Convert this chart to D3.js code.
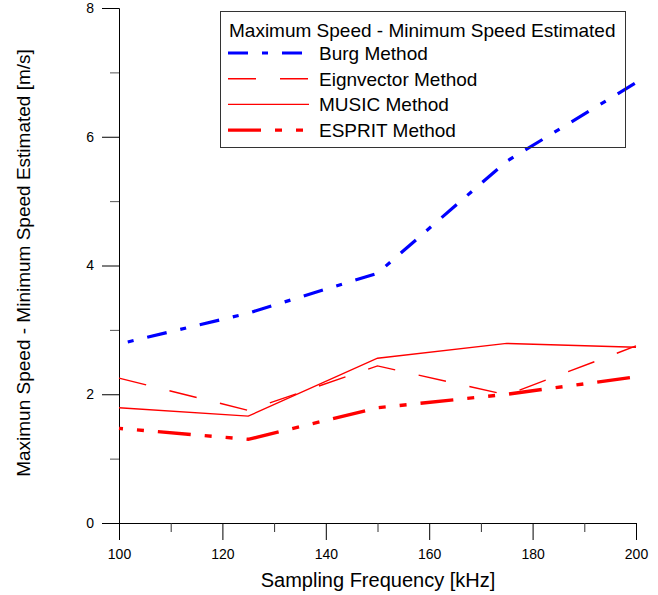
<!DOCTYPE html>
<html>
<head>
<meta charset="utf-8">
<script src="https://d3js.org/d3.v7.min.js"></script>
<style>
  body { margin: 0; background: #fff; }
  text { font-family: Arial, "Liberation Sans", sans-serif; }
</style>
</head>
<body>
<div id="chart"></div>
<script>
// sampling frequencies (kHz)
var freqs = [100, 125, 150, 175, 200];

// estimated max - min speed (m/s)
var burg = [2.78, 3.26, 3.88, 5.62, 6.84];
var eigen = [2.25, 1.75, 2.44, 1.99, 2.75];
var music = [1.79, 1.66, 2.56, 2.79, 2.73];
var esprit = [1.47, 1.30, 1.79, 2.00, 2.27];

var xMajor = [100, 120, 140, 160, 180, 200];
var xMinor = [110, 130, 150, 170, 190];
var yMajor = [0, 2, 4, 6, 8];
var yMinor = [1, 3, 5, 7];

var series = [
    { name: "Burg Method", values: burg, color: "#0000ff", width: 3.2, dash: "20,14,6,14", offset: 25 },
    { name: "Eignvector Method", values: eigen, color: "#ff0000", width: 1.4, dash: "28,24", offset: 0 },
    { name: "MUSIC Method", values: music, color: "#ff0000", width: 1.4, dash: null, offset: 0 },
    { name: "ESPRIT Method", values: esprit, color: "#ff0000", width: 3.4, dash: "33,14,7,14,7,14", offset: 50 }
];

var width = 658, height = 595;
var svg = d3.select("#chart").append("svg")
    .attr("width", width)
    .attr("height", height);

var x = d3.scaleLinear().domain([100, 200]).range([119, 636]);
var y = d3.scaleLinear().domain([0, 8]).range([523, 8]);

// x axis
svg.append("g")
    .attr("transform", "translate(0," + y(0) + ")")
    .call(d3.axisBottom(x).tickValues(xMajor).tickSize(17).tickPadding(9).tickFormat(d3.format("d")))
    .call(function (g) {
        g.selectAll("text").attr("font-size", "14px").attr("fill", "#000").attr("font-family", "Arial, 'Liberation Sans', sans-serif");
        g.select(".domain").attr("stroke", "#000");
    });
svg.append("g")
    .attr("transform", "translate(0," + y(0) + ")")
    .call(d3.axisBottom(x).tickValues(xMinor).tickSize(9).tickFormat(""))
    .call(function (g) { g.select(".domain").remove(); g.selectAll("line").attr("stroke", "#333"); });

// y axis
svg.append("g")
    .attr("transform", "translate(" + x(100) + ",0)")
    .call(d3.axisLeft(y).tickValues(yMajor).tickSize(17).tickPadding(8).tickFormat(d3.format("d")))
    .call(function (g) {
        g.selectAll("text").attr("font-size", "14px").attr("fill", "#000").attr("font-family", "Arial, 'Liberation Sans', sans-serif");
        g.select(".domain").attr("stroke", "#000");
    });
svg.append("g")
    .attr("transform", "translate(" + x(100) + ",0)")
    .call(d3.axisLeft(y).tickValues(yMinor).tickSize(9).tickFormat(""))
    .call(function (g) { g.select(".domain").remove(); g.selectAll("line").attr("stroke", "#555"); });

// axis titles
svg.append("text")
    .attr("x", 378)
    .attr("y", 587)
    .attr("text-anchor", "middle")
    .attr("font-size", "20px")
    .text("Sampling Frequency [kHz]");

svg.append("text")
    .attr("transform", "translate(30,263) rotate(-90)")
    .attr("text-anchor", "middle")
    .attr("font-size", "19px")
    .text("Maximun Speed - Minimum Speed Estimated [m/s]");

// lines
var line = d3.line()
    .x(function (d, i) { return x(freqs[i]); })
    .y(function (d) { return y(d); });

series.forEach(function (s) {
    svg.append("path")
        .datum(s.values)
        .attr("d", line)
        .attr("fill", "none")
        .attr("stroke", s.color)
        .attr("stroke-width", s.width)
        .attr("stroke-dasharray", s.dash)
        .attr("stroke-dashoffset", s.offset);
});

// legend
var legend = svg.append("g");
legend.append("rect")
    .attr("x", 220.5)
    .attr("y", 11.5)
    .attr("width", 405)
    .attr("height", 136)
    .attr("fill", "none")
    .attr("stroke", "#333")
    .attr("stroke-width", 1);

legend.append("text")
    .attr("x", 229)
    .attr("y", 37)
    .attr("font-size", "19px")
    .text("Maximum Speed - Minimum Speed Estimated");

series.forEach(function (s, i) {
    var ly = 53 + i * 25.7;
    legend.append("line")
        .attr("x1", 228)
        .attr("x2", 309)
        .attr("y1", ly)
        .attr("y2", ly)
        .attr("stroke", s.color)
        .attr("stroke-width", s.width)
        .attr("stroke-dasharray", s.dash);
    legend.append("text")
        .attr("x", 319)
        .attr("y", ly + 7)
        .attr("font-size", "19px")
        .text(s.name);
});
</script>
</body>
</html>
